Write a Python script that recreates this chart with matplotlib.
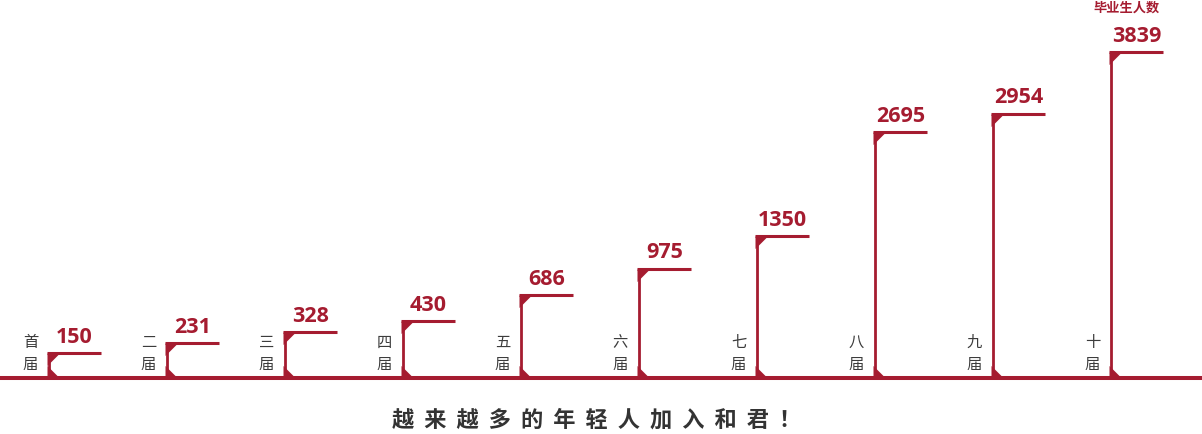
import numpy as np
import matplotlib
import matplotlib.pyplot as plt
from matplotlib.path import Path
matplotlib.use('Agg')

plt.rcParams['font.family'] = ['Noto Sans CJK SC', 'DejaVu Sans']

categories = ['首届', '二届', '三届', '四届', '五届', '六届', '七届', '八届', '九届', '十届']
graduates = [150, 231, 328, 430, 686, 975, 1350, 2695, 2954, 3839]
unit_label = '毕业生人数'
title = '越来越多的年轻人加入和君！'

red = '#a51c30'
grey = '#3c3c3c'

W, H = 1202, 434
fig = plt.figure(figsize=(W / 100, H / 100), dpi=100)
base_px = 377.5
ax = fig.add_axes([0, (H - base_px) / H, 1, base_px / H])


# the drawing compresses the tall columns a little
def fwd(v):
    return np.sign(v) * np.abs(v) ** 0.8


def inv(v):
    return np.sign(v) * np.abs(v) ** 1.25


ax.set_yscale('function', functions=(fwd, inv))
x = np.arange(len(categories))
step = 118
ax.set_xlim(-48.5 / step, (W - 48.5) / step)
ax.set_ylim(0, inv(fwd(max(graduates)) * base_px / 325.5))
ax.axis('off')

flag_w = 52 / step

# baseline
ax.axhline(0, color=red, lw=2.9, clip_on=False, zorder=3)
# columns + flags
ax.vlines(x, 0, graduates, color=red, lw=2.0, zorder=3)
ax.hlines(graduates, x - 0.01, x + flag_w, color=red, lw=2.2, zorder=3)

top_tri = Path([(0, 0), (1, 0), (0, -1), (0, 0)], [1, 2, 2, 79])
bot_tri = Path([(0, 0), (0, 1), (1, 0), (0, 0)], [1, 2, 2, 79])
ax.plot(x - 0.01, graduates, ls='none', marker=top_tri, ms=18, color=red, mew=0, zorder=4)
ax.plot(x - 0.01, np.zeros(len(x)), ls='none', marker=bot_tri, ms=18, color=red, mew=0, zorder=4, clip_on=False)

for i, (c, v) in enumerate(zip(categories, graduates)):
    ax.annotate('\n'.join(c), (i, 0), xytext=(-13, 3.5), textcoords='offset points',
                ha='center', va='bottom', fontsize=11, color=grey, linespacing=1.35)
    ax.annotate(str(v), (i + flag_w / 2, v), xytext=(0, 7.5), textcoords='offset points',
                ha='center', va='baseline', fontsize=15.5, fontweight='bold', color=red,
                family=['Open Sans', 'Noto Sans CJK SC'])

fig.text(1160 / W, 1 - 8 / H, unit_label, ha='right', va='center', fontsize=9.5,
         fontweight='bold', color=red)
fig.text(597 / W, 1 - 420 / H, '  '.join(title), ha='center', va='center', fontsize=16,
         fontweight='bold', color='#333333')

fig.savefig('out.png', dpi=100)
